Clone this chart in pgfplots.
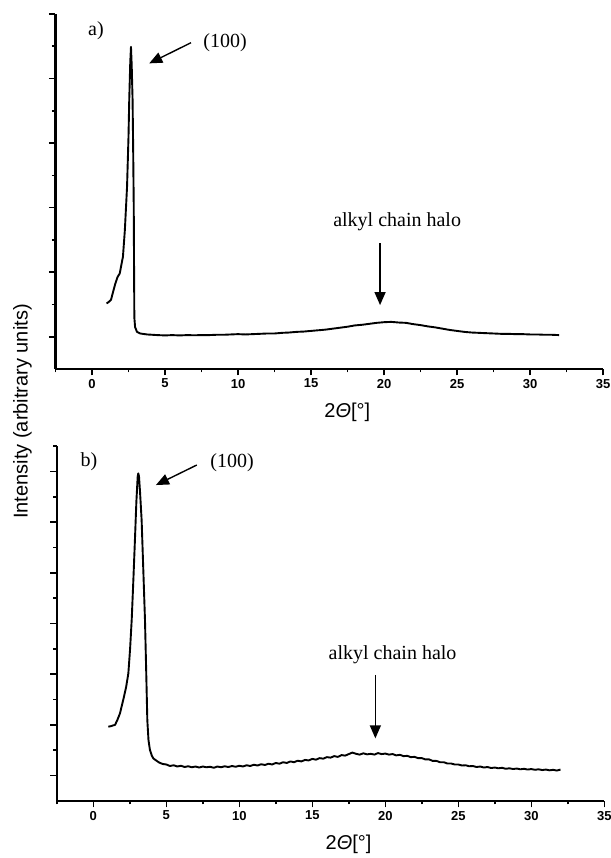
\documentclass[border=0pt]{standalone}
\usepackage{fontspec}
\setmainfont{Liberation Serif}
\setsansfont{Liberation Sans}
\usepackage{pgfplots}
\pgfplotsset{compat=1.18}
\usetikzlibrary{arrows.meta}

\newcommand{\annfont}{\rmfamily\fontsize{20bp}{24bp}\selectfont}
\newcommand{\labfont}{\sffamily\fontsize{20bp}{24bp}\selectfont}

\tikzset{
  ann/.style={-{Triangle[length=13bp,width=11bp]}, line width=1.4bp},
  xrd/.style={black, line width=1.9bp, line join=round, mark=none},
}
\pgfplotsset{
  xrdpanel/.style={
    scale only axis,
    width=547.5bp, height=355bp,
    anchor=south west,
    xmin=-2.5, xmax=35, ymin=0,
    axis x line*=bottom, axis y line*=left,
    axis line style={line width=2bp, -},
    tick style={line width=1.6bp, black},
    tick align=outside,
    major tick length=6.5bp, minor tick length=3.5bp,
    xtick={0,5,...,35}, minor xtick={-2.5,2.5,...,32.5},
    yticklabels={},
    ticklabel style={font=\sffamily\bfseries\fontsize{13bp}{14bp}\selectfont},
    /pgf/number format/assume math mode=true,
    xlabel={2\textit{Θ}[°]},
    xlabel style={font=\labfont, at={(axis description cs:0.533,0)}, anchor=center, yshift=-43bp},
    clip=false,
  },
}

\begin{document}
\begin{tikzpicture}
\useasboundingbox (0,0) rectangle (611bp,858bp);

% panel a
\begin{axis}[xrdpanel, at={(55.5bp,489bp)}, ymax=11,
  ytick={1,3,...,11}, minor ytick={2,4,...,10}]
\addplot[xrd] coordinates {
(1.00,2.03) (1.15,2.08) (1.30,2.14) (1.45,2.40) (1.60,2.65) (1.75,2.85)
(1.90,2.96) (2.00,3.20) (2.12,3.48) (2.25,4.30) (2.40,5.64) (2.50,7.20)
(2.55,8.33) (2.62,9.50) (2.67,9.98) (2.72,9.40) (2.78,8.33) (2.82,6.80)
(2.86,5.00) (2.88,3.20) (2.90,1.60) (2.95,1.30) (3.08,1.15) (3.30,1.10)
(3.77,1.07) (4.50,1.05) (5.00,1.04) (5.50,1.05) (6.00,1.04) (6.50,1.05)
(7.00,1.045) (7.50,1.05) (8.00,1.05) (8.50,1.06) (9.00,1.06) (9.50,1.07)
(10.00,1.08) (10.50,1.07) (11.00,1.08) (11.50,1.09) (12.00,1.10) (12.50,1.10)
(13.00,1.12) (13.50,1.13) (14.00,1.15) (14.50,1.16) (15.00,1.18) (15.50,1.20)
(16.00,1.22) (16.50,1.25) (17.00,1.28) (17.50,1.31) (18.00,1.35) (18.50,1.37)
(19.00,1.40) (19.50,1.43) (20.00,1.45) (20.50,1.46) (21.00,1.44) (21.50,1.43)
(22.00,1.39) (22.50,1.36) (23.00,1.32) (23.50,1.29) (24.00,1.25) (24.50,1.21)
(25.00,1.18) (25.50,1.15) (26.00,1.13) (26.50,1.12) (27.00,1.11) (27.50,1.10)
(28.00,1.09) (28.50,1.09) (29.00,1.08) (29.50,1.08) (30.00,1.07) (30.50,1.07)
(31.00,1.06) (31.50,1.06) (32.00,1.05)
};
\node[font=\annfont] at (axis cs:0.27,10.47) {a)};
\node[font=\annfont] at (axis cs:9.11,10.1) {(100)};
\draw[ann] (axis cs:6.78,10.11) -- (axis cs:3.92,9.47);
\node[font=\annfont] at (axis cs:20.9,4.56) {alkyl chain halo};
\draw[ann] (axis cs:19.73,3.9) -- (axis cs:19.73,1.98);
\end{axis}

% panel b
\begin{axis}[xrdpanel, at={(56.8bp,57bp)}, ymax=14,
  ytick={1,3,...,13}, minor ytick={2,4,...,14}]
\addplot[xrd] coordinates {
(1.03,2.93) (1.20,2.95) (1.35,2.98) (1.49,3.00) (1.65,3.20) (1.83,3.46)
(1.95,3.75) (2.10,4.11) (2.25,4.50) (2.40,5.03) (2.52,6.00) (2.63,7.14)
(2.75,8.80) (2.86,10.42) (2.95,11.80) (3.04,12.79) (3.08,12.92) (3.13,12.80)
(3.20,12.20) (3.31,11.08) (3.42,9.20) (3.54,7.14) (3.62,5.20) (3.70,3.19)
(3.78,2.40) (3.88,2.01) (4.00,1.80) (4.11,1.68) (4.30,1.60)
(4.50,1.52) (4.75,1.46) (5.00,1.44) (5.25,1.38) (5.50,1.41) (5.75,1.36)
(6.00,1.39) (6.25,1.34) (6.50,1.37) (6.75,1.33) (7.00,1.36) (7.25,1.32)
(7.50,1.36) (7.75,1.33) (8.00,1.35) (8.25,1.31) (8.50,1.36) (8.75,1.33)
(9.00,1.37) (9.25,1.34) (9.50,1.38) (9.75,1.35) (10.00,1.39) (10.25,1.36)
(10.50,1.41) (10.75,1.38) (11.00,1.43) (11.25,1.40) (11.50,1.45) (11.75,1.42)
(12.00,1.47) (12.25,1.44) (12.50,1.50) (12.75,1.47) (13.00,1.53) (13.25,1.50)
(13.50,1.56) (13.75,1.53) (14.00,1.59) (14.25,1.56) (14.50,1.62) (14.75,1.60)
(15.00,1.66) (15.25,1.63) (15.50,1.69) (15.75,1.67) (16.00,1.73) (16.25,1.71)
(16.50,1.77) (16.75,1.74) (17.00,1.81) (17.25,1.79) (17.50,1.85) (17.75,1.91)
(18.00,1.86) (18.25,1.83) (18.50,1.88) (18.75,1.84) (19.00,1.86) (19.25,1.83)
(19.50,1.89) (19.75,1.85) (20.00,1.87) (20.25,1.83) (20.50,1.85) (20.75,1.80)
(21.00,1.82) (21.25,1.77) (21.50,1.78) (21.75,1.73) (22.00,1.74) (22.25,1.69)
(22.50,1.69) (22.75,1.64) (23.00,1.64) (23.25,1.58) (23.50,1.58) (23.75,1.53)
(24.00,1.53) (24.25,1.48) (24.50,1.48) (24.75,1.44) (25.00,1.44) (25.25,1.40)
(25.50,1.41) (25.75,1.37) (26.00,1.38) (26.25,1.34) (26.50,1.36) (26.75,1.32)
(27.00,1.34) (27.25,1.30) (27.50,1.32) (27.75,1.29) (28.00,1.31) (28.25,1.27)
(28.50,1.29) (28.75,1.26) (29.00,1.28) (29.25,1.25) (29.50,1.27) (29.75,1.24)
(30.00,1.26) (30.25,1.23) (30.50,1.25) (30.75,1.22) (31.00,1.24) (31.25,1.21)
(31.50,1.23) (31.75,1.20) (32.00,1.24)
};
\node[font=\annfont] at (axis cs:-0.29,13.37) {b)};
\node[font=\annfont] at (axis cs:9.5,13.33) {(100)};
\draw[ann] (axis cs:7.09,13.25) -- (axis cs:4.29,12.46);
\node[font=\annfont] at (axis cs:20.5,5.76) {alkyl chain halo};
\draw[ann] (axis cs:19.32,4.97) -- (axis cs:19.32,2.47);
\end{axis}

\node[font=\labfont, rotate=90] at (22.5bp,446.5bp) {Intensity (arbitrary units)};
\end{tikzpicture}
\end{document}
